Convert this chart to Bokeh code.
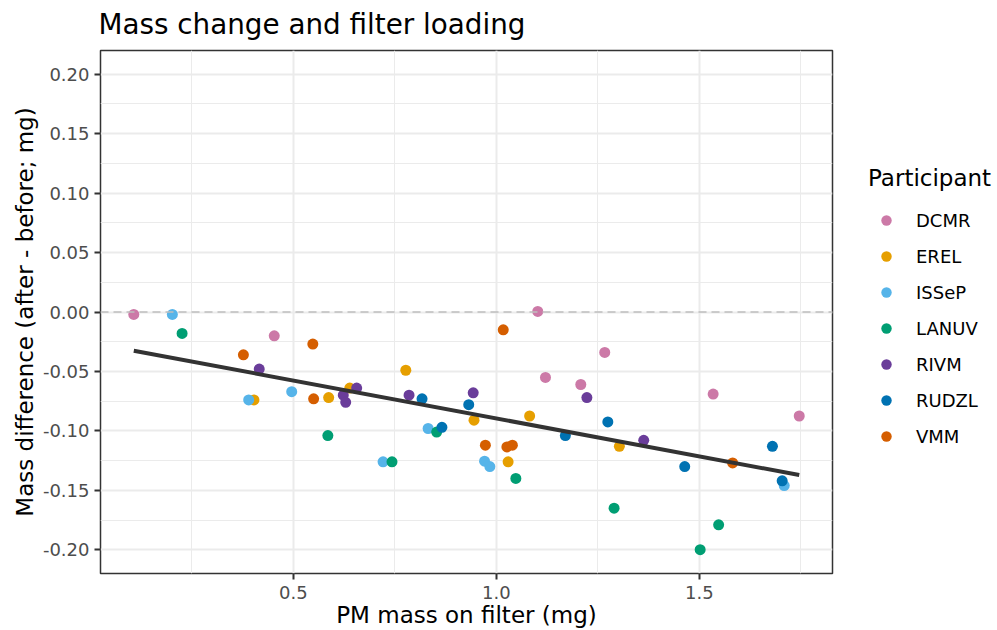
import numpy as np
from bokeh.plotting import figure
from bokeh.layouts import row
from bokeh.models import (ColumnDataSource, Legend, LegendItem, FixedTicker,
                          NumeralTickFormatter, Span, Range1d)
from bokeh.embed import file_html
from bokeh.resources import INLINE

# ---------------- data ----------------
participants = ["DCMR", "EREL", "ISSeP", "LANUV", "RIVM", "RUDZL", "VMM"]
colors = ["#CC79A7", "#E69F00", "#56B4E9", "#009E73", "#6A3D9A", "#0072B2", "#D55E00"]

dcmr_x = [0.107, 0.453, 1.102, 1.121, 1.208, 1.267, 1.534, 1.746]
dcmr_y = [-0.002, -0.020, 0.0005, -0.055, -0.061, -0.034, -0.069, -0.0875]

erel_x = [0.403, 0.587, 0.639, 0.777, 0.945, 1.029, 1.082, 1.303]
erel_y = [-0.074, -0.072, -0.064, -0.049, -0.091, -0.126, -0.0875, -0.113]

issep_x = [0.202, 0.390, 0.496, 0.721, 0.832, 0.971, 0.984, 1.709]
issep_y = [-0.002, -0.074, -0.067, -0.126, -0.098, -0.1255, -0.130, -0.146]

lanuv_x = [0.226, 0.585, 0.743, 0.853, 1.048, 1.290, 1.502, 1.5475]
lanuv_y = [-0.018, -0.104, -0.126, -0.101, -0.140, -0.165, -0.200, -0.179]

rivm_x = [0.416, 0.623, 0.629, 0.656, 0.785, 0.943, 1.223, 1.363]
rivm_y = [-0.048, -0.070, -0.076, -0.064, -0.070, -0.068, -0.072, -0.108]

rudzl_x = [0.817, 0.866, 0.932, 1.170, 1.2746, 1.464, 1.680, 1.704]
rudzl_y = [-0.073, -0.097, -0.078, -0.104, -0.0925, -0.130, -0.113, -0.142]

vmm_x = [0.377, 0.548, 0.550, 0.973, 1.017, 1.026, 1.0395, 1.582]
vmm_y = [-0.036, -0.027, -0.073, -0.112, -0.015, -0.1135, -0.112, -0.127]

series_x = [dcmr_x, erel_x, issep_x, lanuv_x, rivm_x, rudzl_x, vmm_x]
series_y = [dcmr_y, erel_y, issep_y, lanuv_y, rivm_y, rudzl_y, vmm_y]

x_ticks = [0.5, 1.0, 1.5]
x_minor = [0.25, 0.75, 1.25, 1.75]
y_ticks = [-0.20, -0.15, -0.10, -0.05, 0.0, 0.05, 0.10, 0.15, 0.20]
y_minor = [-0.175, -0.125, -0.075, -0.025, 0.025, 0.075, 0.125, 0.175]

# ---------------- main figure ----------------
all_x = np.concatenate([np.array(v) for v in series_x])
all_y = np.concatenate([np.array(v) for v in series_y])
xmin, xmax = all_x.min(), all_x.max()
pad = (xmax - xmin) * 0.05

FONT = "DejaVu Sans"

p = figure(width=834, height=630, output_backend="svg", toolbar_location=None,
           x_range=Range1d(xmin - pad, xmax + pad), y_range=Range1d(-0.22, 0.22),
           min_border_left=100, min_border_right=2, min_border_top=50, min_border_bottom=57,
           title="Mass change and filter loading")

p.background_fill_color = "white"
p.border_fill_color = "white"
p.outline_line_color = "#333333"
p.outline_line_width = 1.5

p.title.text_font = FONT
p.title.text_font_size = "27.8px"
p.title.text_font_style = "normal"
p.title.text_color = "black"
p.title.align = "left"
p.title.offset = -2
p.title.vertical_align = "top"
p.title.standoff = 15

p.xaxis.ticker = FixedTicker(ticks=x_ticks, minor_ticks=x_minor)
p.yaxis.ticker = FixedTicker(ticks=y_ticks, minor_ticks=y_minor)
p.xaxis.formatter = NumeralTickFormatter(format="0.0")
p.yaxis.formatter = NumeralTickFormatter(format="0.00")

for ax in (p.xaxis, p.yaxis):
    ax.axis_line_color = None
    ax.major_tick_line_color = "#333333"
    ax.major_tick_line_width = 2
    ax.major_tick_out = 6
    ax.major_tick_in = 0
    ax.minor_tick_line_color = None
    ax.major_label_text_font = FONT
    ax.major_label_text_font_size = "18px"
    ax.major_label_text_color = "#4D4D4D"
    ax.axis_label_text_font = FONT
    ax.axis_label_text_font_size = "23px"
    ax.axis_label_text_font_style = "normal"
    ax.axis_label_text_color = "black"

p.xaxis.axis_label = "PM mass on filter (mg)"
p.yaxis.axis_label = "Mass difference (after - before; mg)"
p.xaxis.major_label_standoff = 6
p.yaxis.major_label_standoff = 5
p.xaxis.axis_label_standoff = 0
p.yaxis.axis_label_standoff = 2

for g in (p.xgrid, p.ygrid):
    g.grid_line_color = "#EBEBEB"
    g.grid_line_width = 2
    g.minor_grid_line_color = "#EBEBEB"
    g.minor_grid_line_width = 1

for name, col, xs, ys in zip(participants, colors, series_x, series_y):
    src = ColumnDataSource(dict(x=xs, y=ys))
    p.scatter("x", "y", source=src, size=11, fill_color=col, line_color=col, line_width=0)

# dashed zero line
p.add_layout(Span(location=0, dimension="width", line_color="#BEBEBE",
                  line_dash="8 5", line_width=1.5))

# linear fit of all points
slope, intercept = np.polyfit(all_x, all_y, 1)
fx = np.array([xmin, xmax])
p.line(fx, intercept + slope * fx, line_color="#333333", line_width=4)

# ---------------- legend panel ----------------
q = figure(width=163, height=630, output_backend="svg", toolbar_location=None,
           x_range=Range1d(100, 101), y_range=Range1d(100, 101),
           x_axis_location=None, y_axis_location=None, min_border=0)
q.outline_line_color = None
q.grid.visible = False
q.background_fill_color = "white"
q.border_fill_color = "white"

items = []
for name, col, xs, ys in zip(participants, colors, series_x, series_y):
    src = ColumnDataSource(dict(x=xs, y=ys))
    r = q.scatter("x", "y", source=src, size=11, fill_color=col, line_color=col, line_width=0)
    items.append(LegendItem(label=name, renderers=[r]))

legend = Legend(items=items, location=(34, 124), orientation="vertical",
                title="Participant", title_text_font=FONT, title_text_font_size="23px",
                title_text_font_style="normal", title_text_color="black",
                title_standoff=16,
                label_text_font=FONT, label_text_font_size="18px", label_text_color="black",
                glyph_width=36, glyph_height=26, label_height=26, spacing=10,
                label_standoff=12, padding=0, margin=0,
                border_line_color=None, background_fill_alpha=0)
q.add_layout(legend)

layout = row(p, q)
open("out.html", "w").write(file_html(layout, INLINE))
